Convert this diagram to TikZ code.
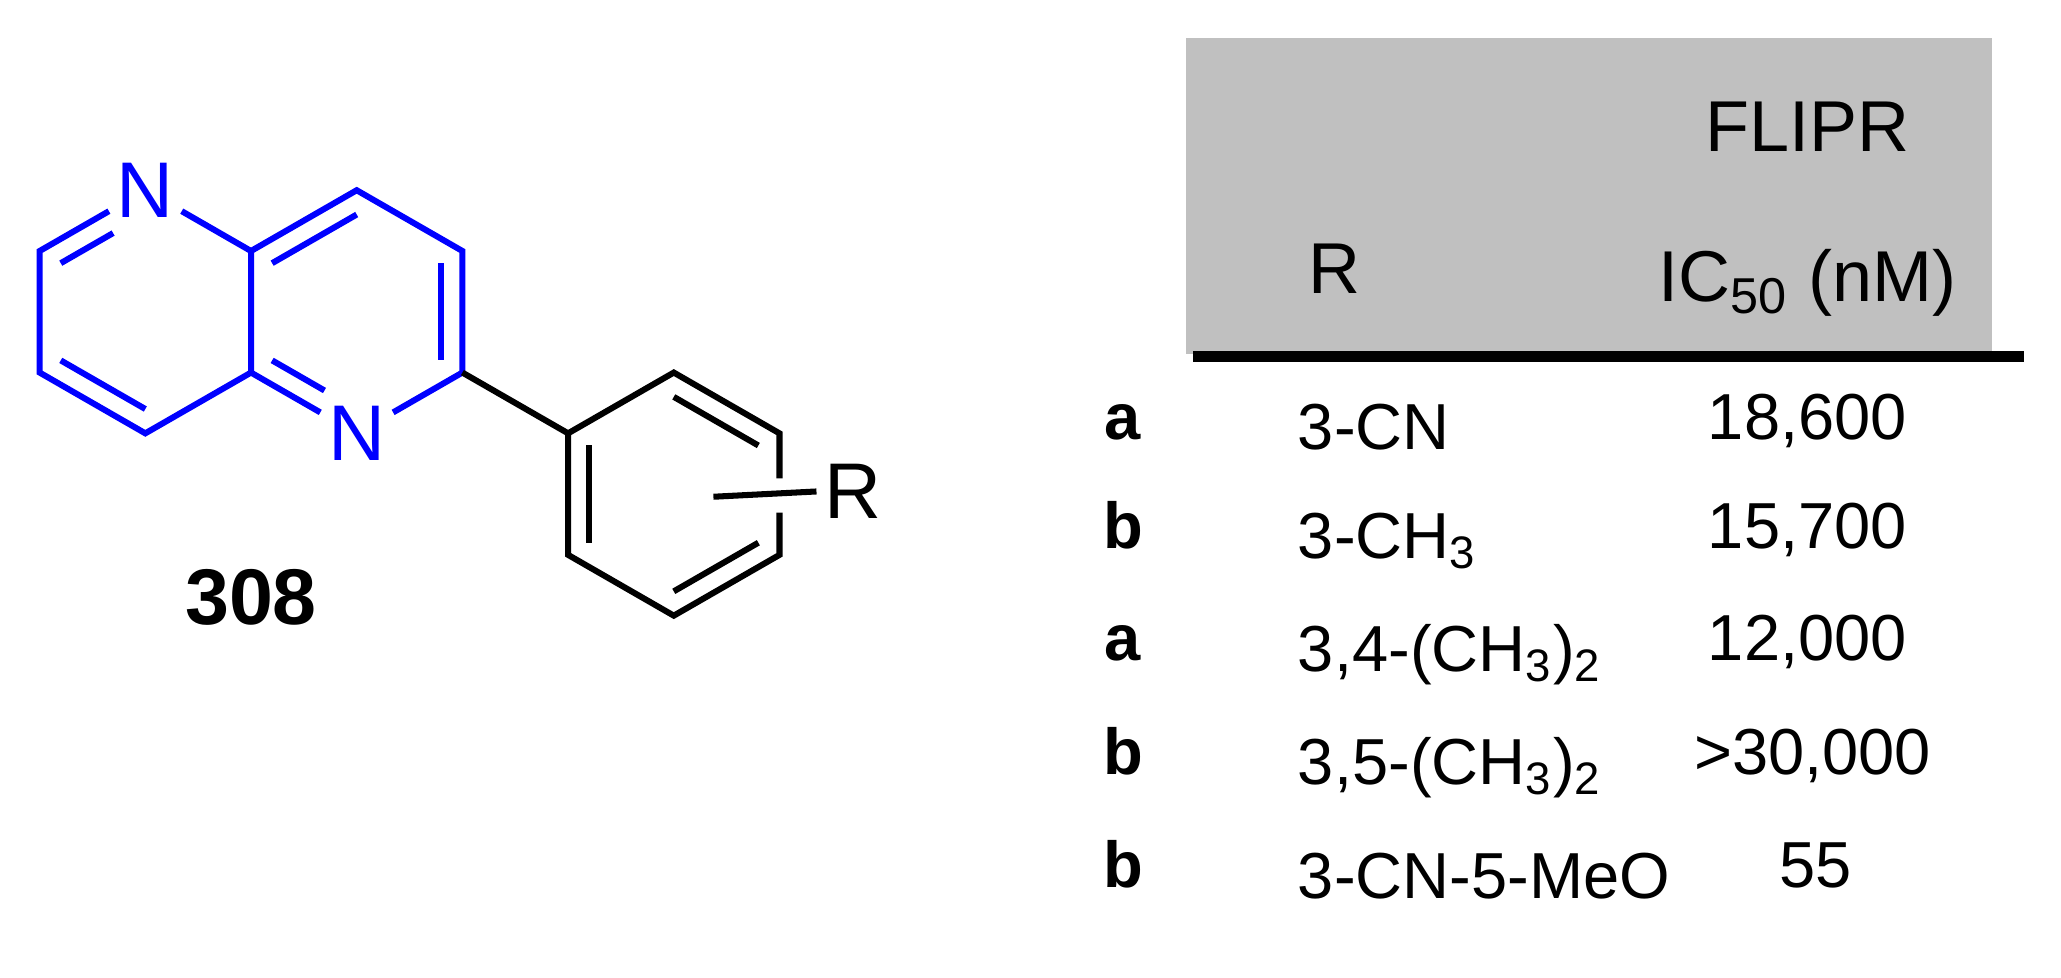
\documentclass[tikz,border=0pt]{standalone}
\usepackage{fontspec}
\setmainfont{Liberation Sans}
\usetikzlibrary{calc}
\definecolor{molblue}{RGB}{0,0,255}
\definecolor{hdrgray}{RGB}{192,192,192}
\begin{document}
\begin{tikzpicture}[x=0.01cm,y=-0.01cm,
  bond/.style={line width=1.3pt},
  bb/.style={bond,molblue},
  atomN/.style={text=molblue,font=\fontsize{17}{17}\selectfont,inner sep=1.5pt},
  hdr/.style={font=\fontsize{15.5}{15.5}\selectfont,anchor=base},
  cell/.style={font=\fontsize{14}{14}\selectfont,anchor=base},
  rcell/.style={font=\fontsize{14}{14}\selectfont,anchor=base west},
  lbl/.style={font=\bfseries\fontsize{14}{14}\selectfont,anchor=base}]
\useasboundingbox (0,0) rectangle (1560,740);
% table header
\fill[hdrgray] (898,29) rectangle (1508,268);
\draw[line width=2.4pt] (903,270) -- (1532,270);
\node[hdr] (hR) at (1010,222) {R};
\node[hdr] (hF) at (1368,115) {FLIPR};
\node[hdr] (hI) at (1368,228) {IC\textsubscript{50} (nM)};
% rows
\node[lbl] (L1) at (850,333) {a};
\node[rcell] (R1) at (970,340) {3-CN};
\node[cell] (V1) at (1368,333) {18,600};
\node[lbl] (L2) at (850,415) {b};
\node[rcell] (R2) at (970,423) {3-CH\textsubscript{3}};
\node[cell] (V2) at (1368,415) {15,700};
\node[lbl] (L3) at (850,500) {a};
\node[rcell] (R3) at (970,508) {3,4-(CH\textsubscript{3})\textsubscript{2}};
\node[cell] (V3) at (1368,500) {12,000};
\node[lbl] (L4) at (850,586) {b};
\node[rcell] (R4) at (970,594) {3,5-(CH\textsubscript{3})\textsubscript{2}};
\node[cell] (V4) at (1372,586) {>30,000};
\node[lbl] (L5) at (850,672) {b};
\node[rcell] (R5) at (970,680) {3-CN-5-MeO};
\node[cell] (V5) at (1374,672) {55};
% molecule
\coordinate (J1) at (190,190);
\coordinate (J2) at (190,282);
\coordinate (T) at (270,144);
\coordinate (C3) at (350,190);
\coordinate (C2) at (350,282);
\node[atomN] (N5) at (270,328) {N};
\node[atomN] (N1) at (110,144) {N};
\coordinate (A2) at (30,190);
\coordinate (A3) at (30,282);
\coordinate (A4) at (110,328);
\coordinate (cR) at (270,236);
\coordinate (cL) at (110,236);
\draw[bb] (N1) -- (A2) -- (A3) -- (A4) -- (J2) -- (J1) -- (N1);
\draw[bb] (J1) -- (T) -- (C3) -- (C2) -- (N5) -- (J2);
% inner double-bond lines
\draw[bb,shorten >=8] ($(A2)!0.2!(cL)$) -- ($(N1)!0.2!(cL)$);
\draw[bb] ($(A3)!0.2!(cL)$) -- ($(A4)!0.2!(cL)$);
\draw[bb] ($(J1)!0.2!(cR)$) -- ($(T)!0.2!(cR)$);
\draw[bb] ($(C3)!0.2!(cR)$) -- ($(C2)!0.2!(cR)$);
\draw[bb,shorten >=8] ($(J2)!0.2!(cR)$) -- ($(N5)!0.2!(cR)$);
% phenyl
\coordinate (P1) at (430,328);
\coordinate (P2) at (510,282);
\coordinate (P3) at (590,328);
\coordinate (P4) at (590,420);
\coordinate (P5) at (510,466);
\coordinate (P6) at (430,420);
\coordinate (cP) at (510,374);
\draw[bond] (C2) -- (P1);
\draw[bond] (590,362) -- (P3) -- (P2) -- (P1) -- (P6) -- (P5) -- (P4) -- (590,388);
\draw[bond] ($(P2)!0.2!(cP)$) -- ($(P3)!0.2!(cP)$);
\draw[bond] ($(P1)!0.2!(cP)$) -- ($(P6)!0.2!(cP)$);
\draw[bond] ($(P4)!0.2!(cP)$) -- ($(P5)!0.2!(cP)$);
\node[font=\fontsize{17}{17}\selectfont,inner sep=1.5pt,anchor=west] (Rsub) at (618,372) {R};
\coordinate (Rin) at (540,376);
\draw[bond] (Rin) -- (Rsub.west);
\node[font=\bfseries\fontsize{17}{17}\selectfont] (lab) at (190,452) {308};
\end{tikzpicture}
\end{document}
